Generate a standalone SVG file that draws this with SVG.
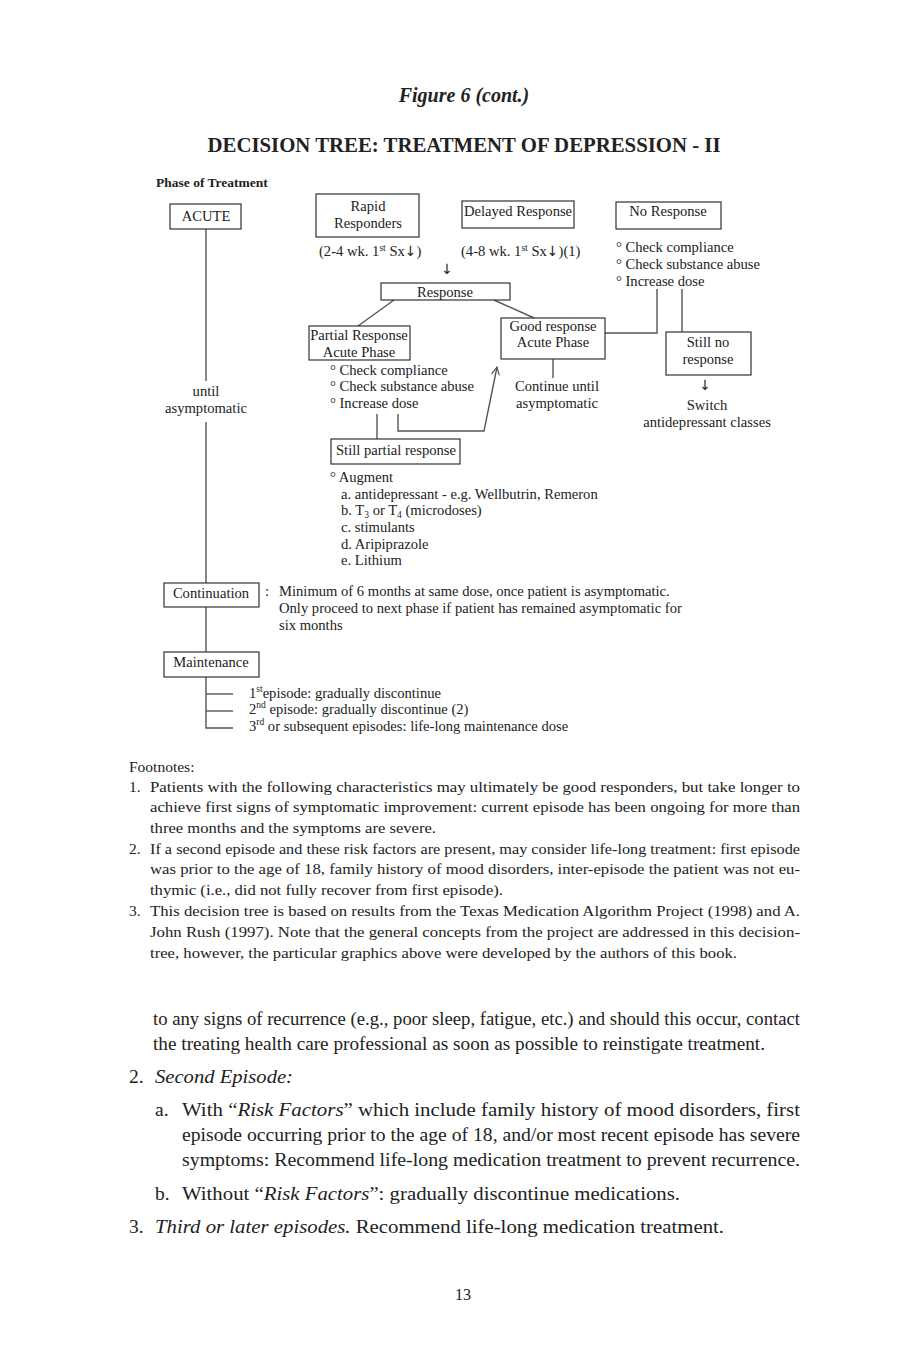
<svg xmlns="http://www.w3.org/2000/svg" width="900" height="1350" viewBox="0 0 900 1350">
<style>
text{font-family:"Liberation Serif","DejaVu Serif",serif;fill:#222}
.d{font-size:14.6px}
.c{text-anchor:middle}
.fn{font-size:15.5px}
.bd{font-size:19.5px}
.box{fill:#fff;stroke:#333;stroke-width:1.2}
.ln{fill:none;stroke:#555;stroke-width:1.4}
.sup{font-size:9.5px}
.arr{font-family:"DejaVu Sans",sans-serif;font-size:14px}
</style>
<defs>
<marker id="ah" viewBox="0 0 10 10" refX="9" refY="5" markerWidth="7" markerHeight="7" orient="auto-start-reverse">
<path d="M1,1 L9,5 L1,9" fill="none" stroke="#555" stroke-width="1.2"/>
</marker>
</defs>
<rect width="900" height="1350" fill="#fff"/>

<g id="header">
<text x="464" y="102" class="c" style="font-size:20px;font-weight:bold;font-style:italic">Figure 6 (cont.)</text>
<text x="464" y="152" class="c" style="font-size:20px;font-weight:bold" textLength="513" lengthAdjust="spacingAndGlyphs">DECISION TREE: TREATMENT OF DEPRESSION - II</text>
<text x="156" y="187" style="font-size:13.5px;font-weight:bold">Phase of Treatment</text>
</g>

<g id="connectors">
<line class="ln" x1="206" y1="229" x2="206" y2="381"/>
<line class="ln" x1="206" y1="422" x2="206" y2="583"/>
<line class="ln" x1="206" y1="607" x2="206" y2="652"/>
<polyline class="ln" points="206,677 206,728 233,728"/>
<line class="ln" x1="206" y1="694" x2="233" y2="694"/>
<line class="ln" x1="206" y1="711" x2="233" y2="711"/>
<line class="ln" x1="394" y1="300" x2="358" y2="326"/>
<line class="ln" x1="494" y1="300" x2="534" y2="318"/>
<polyline class="ln" points="605,333 657,333 657,289"/>
<line class="ln" x1="682" y1="289" x2="682" y2="332"/>
<line class="ln" x1="553" y1="359" x2="553" y2="378"/>
<line class="ln" x1="377" y1="414" x2="377" y2="439"/>
<polyline class="ln" points="398,414 398,431 484,431 497,367" marker-end="url(#ah)"/>
</g>

<g id="acute">
<rect class="box" x="170" y="204" width="71" height="25"/>
<text class="d c" x="206" y="221">ACUTE</text>
<text class="d c" x="206" y="396">until</text>
<text class="d c" x="206" y="413">asymptomatic</text>
</g>

<g id="rapid">
<rect class="box" x="316" y="194" width="103" height="43"/>
<text class="d c" x="368" y="211">Rapid</text>
<text class="d c" x="368" y="228">Responders</text>
<text class="d" x="319" y="256">(2-4 wk. 1<tspan class="sup" dy="-5">st</tspan><tspan dy="5"> Sx</tspan><tspan class="arr">↓</tspan>)</text>
</g>

<g id="delayed">
<rect class="box" x="462" y="201" width="112" height="27"/>
<text class="d c" x="518" y="216">Delayed Response</text>
<text class="d" x="461" y="256">(4-8 wk. 1<tspan class="sup" dy="-5">st</tspan><tspan dy="5"> Sx</tspan><tspan class="arr">↓</tspan>)(1)</text>
<text class="arr c" x="447" y="274">↓</text>
</g>

<g id="noresponse">
<rect class="box" x="616" y="202" width="105" height="27"/>
<text class="d c" x="668" y="216">No Response</text>
<text class="d" x="616" y="252">° Check compliance</text>
<text class="d" x="616" y="269">° Check substance abuse</text>
<text class="d" x="616" y="286">° Increase dose</text>
</g>

<g id="response">
<rect class="box" x="381" y="283" width="129" height="17"/>
<text class="d c" x="445" y="297">Response</text>
</g>

<g id="partial">
<rect class="box" x="309" y="326" width="101" height="34"/>
<text class="d c" x="359" y="340">Partial Response</text>
<text class="d c" x="359" y="357">Acute Phase</text>
<text class="d" x="330" y="375">° Check compliance</text>
<text class="d" x="330" y="391">° Check substance abuse</text>
<text class="d" x="330" y="408">° Increase dose</text>
</g>

<g id="good">
<rect class="box" x="501" y="318" width="104" height="41"/>
<text class="d c" x="553" y="331">Good response</text>
<text class="d c" x="553" y="347">Acute Phase</text>
<text class="d c" x="557" y="391">Continue until</text>
<text class="d c" x="557" y="408">asymptomatic</text>
</g>

<g id="stillno">
<rect class="box" x="666" y="332" width="85" height="43"/>
<text class="d c" x="708" y="347">Still no</text>
<text class="d c" x="708" y="364">response</text>
<text class="arr c" x="705" y="390">↓</text>
<text class="d c" x="707" y="410">Switch</text>
<text class="d c" x="707" y="427">antidepressant classes</text>
</g>

<g id="stillpartial">
<rect class="box" x="331" y="439" width="129" height="25"/>
<text class="d" x="336" y="455">Still partial response</text>
<text class="d" x="330" y="482">° Augment</text>
<text class="d" x="341" y="499">a. antidepressant - e.g. Wellbutrin, Remeron</text>
<text class="d" x="341" y="515">b. T<tspan class="sup" dy="3">3</tspan><tspan dy="-3"> or T</tspan><tspan class="sup" dy="3">4</tspan><tspan dy="-3"> (microdoses)</tspan></text>
<text class="d" x="341" y="532">c. stimulants</text>
<text class="d" x="341" y="549">d. Aripiprazole</text>
<text class="d" x="341" y="565">e. Lithium</text>
</g>

<g id="continuation">
<rect class="box" x="164" y="583" width="95" height="24"/>
<text class="d c" x="211" y="598">Continuation</text>
<text class="d" x="265" y="596">:</text>
<text class="d" x="279" y="596">Minimum of 6 months at same dose, once patient is asymptomatic.</text>
<text class="d" x="279" y="613">Only proceed to next phase if patient has remained asymptomatic for</text>
<text class="d" x="279" y="630">six months</text>
</g>

<g id="maintenance">
<rect class="box" x="164" y="652" width="95" height="25"/>
<text class="d c" x="211" y="667">Maintenance</text>
<text class="d" x="249" y="698">1<tspan class="sup" dy="-6">st</tspan><tspan dy="6">episode:  gradually discontinue</tspan></text>
<text class="d" x="249" y="714">2<tspan class="sup" dy="-6">nd</tspan><tspan dy="6"> episode: gradually discontinue (2)</tspan></text>
<text class="d" x="249" y="731">3<tspan class="sup" dy="-6">rd</tspan><tspan dy="6"> or subsequent episodes: life-long maintenance dose</tspan></text>
</g>

<g id="footnotes">
<text class="fn" x="129" y="772">Footnotes:</text>
<text class="fn" x="129" y="792">1.</text>
<text class="fn" x="150" y="792" textLength="650" lengthAdjust="spacingAndGlyphs">Patients with the following characteristics may ultimately be good responders, but take longer to</text>
<text class="fn" x="150" y="812" textLength="650" lengthAdjust="spacingAndGlyphs">achieve first signs of symptomatic improvement: current episode has been ongoing for more than</text>
<text class="fn" x="150" y="833" textLength="286" lengthAdjust="spacingAndGlyphs">three months and the symptoms are severe.</text>
<text class="fn" x="129" y="854">2.</text>
<text class="fn" x="150" y="854" textLength="650" lengthAdjust="spacingAndGlyphs">If a second episode and these risk factors are present, may consider life-long treatment: first episode</text>
<text class="fn" x="150" y="874" textLength="650" lengthAdjust="spacingAndGlyphs">was prior to the age of 18, family history of mood disorders, inter-episode the patient was not eu-</text>
<text class="fn" x="150" y="895" textLength="353" lengthAdjust="spacingAndGlyphs">thymic (i.e., did not fully recover from first episode).</text>
<text class="fn" x="129" y="916">3.</text>
<text class="fn" x="150" y="916" textLength="650" lengthAdjust="spacingAndGlyphs">This decision tree is based on results from the Texas Medication Algorithm Project (1998) and A.</text>
<text class="fn" x="150" y="937" textLength="650" lengthAdjust="spacingAndGlyphs">John Rush (1997). Note that the general concepts from the project are addressed in this decision-</text>
<text class="fn" x="150" y="958" textLength="587" lengthAdjust="spacingAndGlyphs">tree, however, the particular graphics above were developed by the authors of this book.</text>
</g>

<g id="bodytext">
<text class="bd" x="153" y="1025" textLength="647" lengthAdjust="spacingAndGlyphs">to any signs of recurrence (e.g., poor sleep, fatigue, etc.) and should this occur, contact</text>
<text class="bd" x="153" y="1050" textLength="612" lengthAdjust="spacingAndGlyphs">the treating health care professional as soon as possible to reinstigate treatment.</text>
<text class="bd" x="129" y="1083">2.</text>
<text class="bd" x="155" y="1083" style="font-style:italic" textLength="138" lengthAdjust="spacingAndGlyphs">Second Episode:</text>
<text class="bd" x="155" y="1116">a.</text>
<text class="bd" x="182" y="1116" textLength="618" lengthAdjust="spacingAndGlyphs">With “<tspan style="font-style:italic">Risk Factors</tspan>” which include family history of mood disorders, first</text>
<text class="bd" x="182" y="1141" textLength="618" lengthAdjust="spacingAndGlyphs">episode occurring prior to the age of 18, and/or most recent episode has severe</text>
<text class="bd" x="182" y="1166" textLength="618" lengthAdjust="spacingAndGlyphs">symptoms: Recommend life-long medication treatment to prevent recurrence.</text>
<text class="bd" x="155" y="1200">b.</text>
<text class="bd" x="182" y="1200" textLength="498" lengthAdjust="spacingAndGlyphs">Without “<tspan style="font-style:italic">Risk Factors</tspan>”: gradually discontinue medications.</text>
<text class="bd" x="129" y="1233">3.</text>
<text class="bd" x="155" y="1233" textLength="569" lengthAdjust="spacingAndGlyphs"><tspan style="font-style:italic">Third or later episodes.</tspan> Recommend life-long medication treatment.</text>
<text x="463" y="1300" class="c" style="font-size:16px">13</text>
</g>
</svg>
